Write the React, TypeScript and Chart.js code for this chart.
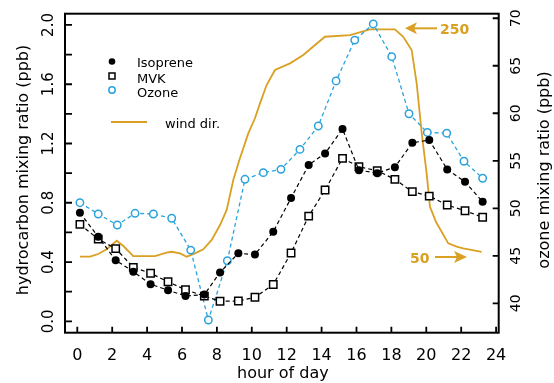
import React, { useEffect, useRef } from 'react';
import { Chart, registerables } from 'chart.js';

Chart.register(...registerables);

// ---- data ----
const sampleHours = [0.15, 1.2, 2.2, 3.21, 4.2, 5.2, 6.2, 7.28, 8.18, 9.23, 10.18, 11.23, 12.25, 13.26, 14.2, 15.2, 16.14, 17.19, 18.2, 19.2, 20.17, 21.2, 22.22, 23.23];
const isoprene = [0.733, 0.57, 0.412, 0.335, 0.25, 0.21, 0.171, 0.18, 0.33, 0.459, 0.45, 0.605, 0.832, 1.055, 1.133, 1.298, 1.02, 1.0, 1.04, 1.205, 1.223, 1.025, 0.942, 0.807];
const mvk = [0.654, 0.555, 0.49, 0.364, 0.324, 0.267, 0.213, 0.17, 0.135, 0.137, 0.162, 0.248, 0.461, 0.71, 0.886, 1.1, 1.043, 1.016, 0.958, 0.875, 0.845, 0.785, 0.746, 0.702];

const ozoneHours = [0.15, 1.2, 2.29, 3.31, 4.36, 5.41, 6.5, 7.51, 8.6, 9.61, 10.66, 11.67, 12.76, 13.81, 14.83, 15.9, 16.96, 18.02, 19.01, 20.06, 21.17, 22.16, 23.23];
const ozone = [50.59, 49.4, 48.24, 49.47, 49.4, 48.95, 45.6, 38.24, 44.48, 53.05, 53.75, 54.1, 56.2, 58.66, 63.4, 67.7, 69.4, 65.96, 59.95, 57.98, 57.9, 54.95, 53.16];

const windHours = [0.15, 0.73, 1.2, 1.68, 2.26, 2.64, 3.21, 3.88, 4.45, 5.12, 5.41, 5.89, 6.27, 6.74, 7.22, 7.7, 8.18, 8.56, 8.94, 9.32, 9.8, 10.18, 10.47, 10.85, 11.33, 12.19, 12.95, 14.19, 15.63, 16.77, 18.2, 18.68, 19.16, 19.45, 19.74, 20.02, 20.21, 20.56, 21.26, 21.74, 22.12, 23.17];
const windDir = [47.6, 47.6, 50, 54.2, 61.8, 57.1, 48.2, 48.2, 48.2, 51.2, 52, 50.6, 47.6, 50.6, 54.2, 62.5, 75.8, 89.2, 115.9, 135.2, 157.4, 170.8, 184.1, 200.4, 213.8, 219.7, 227.1, 243.4, 244.9, 250, 250, 243.4, 231.6, 201.9, 157.4, 121.8, 92.1, 78.5, 59.5, 56.5, 55.1, 51.8];

const xTickValues = [0, 2, 4, 6, 8, 10, 12, 14, 16, 18, 20, 22, 24];
const xTickLabels = ['0', '2', '4', '6', '8', '10', '12', '14', '16', '18', '20', '22', '24'];
const leftTickValues = [0, 0.2, 0.4, 0.6, 0.8, 1.0, 1.2, 1.4, 1.6, 1.8, 2.0];
const leftLabelValues = [0, 0.4, 0.8, 1.2, 1.6, 2.0];
const leftLabels = ['0.0', '0.4', '0.8', '1.2', '1.6', '2.0'];
const rightTickValues = [40, 45, 50, 55, 60, 65, 70];
const rightLabels = ['40', '45', '50', '55', '60', '65', '70'];

const xTitle = 'hour of day';
const leftTitle = 'hydrocarbon mixing ratio (ppb)';
const rightTitle = 'ozone mixing ratio (ppb)';
const legendLabels = ['Isoprene', 'MVK', 'Ozone', 'wind dir.'];
const windHighLabel = '250';
const windLowLabel = '50';
const windHighValue = 250;
const windLowValue = 50;

const ORANGE = '#D9A022';
const BLUE = '#2AA3DD';
const FONT = '"DejaVu Sans", sans-serif';

const framePlugin = {
  id: 'framePlugin',
  afterDraw(chart: any) {
    const ctx: CanvasRenderingContext2D = chart.ctx;
    const { left, top, right, bottom } = chart.chartArea;
    const xs = chart.scales.x;
    const yl = chart.scales.y;
    const yr = chart.scales.yr;
    const yw = chart.scales.yw;
    ctx.save();
    // frame
    ctx.strokeStyle = '#000';
    ctx.lineWidth = 2;
    ctx.strokeRect(left, top, right - left, bottom - top);
    // ticks
    ctx.lineWidth = 1.8;
    ctx.beginPath();
    xTickValues.forEach((v) => {
      const px = xs.getPixelForValue(v);
      ctx.moveTo(px, bottom);
      ctx.lineTo(px, bottom - 6);
    });
    leftTickValues.forEach((v) => {
      const py = yl.getPixelForValue(v);
      ctx.moveTo(left, py);
      ctx.lineTo(left + 7, py);
    });
    rightTickValues.forEach((v) => {
      const py = yr.getPixelForValue(v);
      ctx.moveTo(right, py);
      ctx.lineTo(right - 6, py);
    });
    ctx.stroke();

    // x tick labels
    ctx.fillStyle = '#000';
    ctx.textAlign = 'center';
    ctx.textBaseline = 'alphabetic';
    ctx.font = '16px ' + FONT;
    xTickLabels.forEach((lab, i) => {
      ctx.fillText(lab, xs.getPixelForValue(xTickValues[i]), 360);
    });
    ctx.fillText(xTitle, (left + right) / 2 + 1, 378);

    // left tick labels (rotated)
    ctx.font = '15px ' + FONT;
    leftLabels.forEach((lab, i) => {
      const py = yl.getPixelForValue(leftLabelValues[i]);
      ctx.save();
      ctx.translate(53, py);
      ctx.rotate(-Math.PI / 2);
      ctx.fillText(lab, 0, 0);
      ctx.restore();
    });
    // right tick labels
    ctx.font = '14px ' + FONT;
    rightLabels.forEach((lab, i) => {
      const py = yr.getPixelForValue(rightTickValues[i]);
      ctx.save();
      ctx.translate(520, py);
      ctx.rotate(-Math.PI / 2);
      ctx.fillText(lab, 0, 0);
      ctx.restore();
    });
    // axis titles
    ctx.font = '16px ' + FONT;
    ctx.save();
    ctx.translate(28, 170);
    ctx.rotate(-Math.PI / 2);
    ctx.fillText(leftTitle, 0, 0);
    ctx.restore();
    ctx.save();
    ctx.translate(549, 170);
    ctx.rotate(-Math.PI / 2);
    ctx.fillText(rightTitle, 0, 0);
    ctx.restore();

    // legend
    ctx.font = '13px ' + FONT;
    ctx.textAlign = 'left';
    const lx = 112;
    const tx = 137;
    // isoprene
    ctx.fillStyle = '#000';
    ctx.beginPath();
    ctx.arc(lx, 61.5, 3.3, 0, Math.PI * 2);
    ctx.fill();
    ctx.fillText(legendLabels[0], tx, 66.5);
    // mvk
    ctx.strokeStyle = '#000';
    ctx.lineWidth = 1.5;
    ctx.strokeRect(lx - 3, 73, 6, 6);
    ctx.fillText(legendLabels[1], tx, 82.5);
    // ozone
    ctx.strokeStyle = BLUE;
    ctx.beginPath();
    ctx.arc(lx, 90, 3.2, 0, Math.PI * 2);
    ctx.stroke();
    ctx.fillText(legendLabels[2], tx, 97);
    // wind
    ctx.strokeStyle = ORANGE;
    ctx.lineWidth = 2;
    ctx.beginPath();
    ctx.moveTo(111, 122);
    ctx.lineTo(147, 122);
    ctx.stroke();
    ctx.fillText(legendLabels[3], 165, 128);

    // wind annotations
    ctx.fillStyle = ORANGE;
    ctx.strokeStyle = ORANGE;
    ctx.font = 'bold 14px ' + FONT;
    const yHigh = yw.getPixelForValue(windHighValue) - 1;
    // arrow pointing left
    ctx.lineWidth = 2;
    ctx.beginPath();
    ctx.moveTo(437, yHigh);
    ctx.lineTo(414, yHigh);
    ctx.stroke();
    ctx.beginPath();
    ctx.moveTo(405, yHigh);
    ctx.lineTo(417, yHigh - 6);
    ctx.lineTo(414, yHigh);
    ctx.lineTo(417, yHigh + 6);
    ctx.closePath();
    ctx.fill();
    ctx.textAlign = 'left';
    ctx.fillText(windHighLabel, 440, yHigh + 6);

    const yLow = yw.getPixelForValue(windLowValue) + 3;
    ctx.beginPath();
    ctx.moveTo(435, yLow);
    ctx.lineTo(458, yLow);
    ctx.stroke();
    ctx.beginPath();
    ctx.moveTo(467, yLow);
    ctx.lineTo(454, yLow - 6);
    ctx.lineTo(457, yLow);
    ctx.lineTo(454, yLow + 6);
    ctx.closePath();
    ctx.fill();
    ctx.fillText(windLowLabel, 410, yLow + 6);

    ctx.restore();
  },
};

export default function App() {
  const ref = useRef<HTMLCanvasElement>(null);
  useEffect(() => {
    const canvas = ref.current;
    if (!canvas) return;
    const chart = new Chart(canvas, {
      type: 'scatter',
      data: {
        datasets: [
          {
            label: 'Isoprene',
            data: sampleHours.map((h, i) => ({ x: h, y: isoprene[i] })),
            yAxisID: 'y',
            showLine: true,
            borderColor: '#000',
            borderWidth: 1.2,
            borderDash: [4, 3],
            pointStyle: 'circle',
            pointRadius: 4,
            pointBorderWidth: 0,
            pointBackgroundColor: '#000',
            pointBorderColor: '#000',
          },
          {
            label: 'MVK',
            data: sampleHours.map((h, i) => ({ x: h, y: mvk[i] })),
            yAxisID: 'y',
            showLine: true,
            borderColor: '#000',
            borderWidth: 1.2,
            borderDash: [4, 3],
            pointStyle: 'rect',
            pointRadius: 5.2,
            pointBorderWidth: 1.5,
            pointBackgroundColor: '#fff',
            pointBorderColor: '#000',
          },
          {
            label: 'Ozone',
            data: ozoneHours.map((h, i) => ({ x: h, y: ozone[i] })),
            yAxisID: 'yr',
            showLine: true,
            borderColor: BLUE,
            borderWidth: 1.3,
            borderDash: [4, 3],
            pointStyle: 'circle',
            pointRadius: 3.7,
            pointBorderWidth: 1.5,
            pointBackgroundColor: '#fff',
            pointBorderColor: BLUE,
          },
          {
            label: 'wind dir.',
            data: windHours.map((h, i) => ({ x: h, y: windDir[i] })),
            yAxisID: 'yw',
            showLine: true,
            borderColor: ORANGE,
            borderWidth: 1.8,
            pointRadius: 0,
          },
        ],
      },
      options: {
        responsive: false,
        animation: false,
        devicePixelRatio: 1,
        layout: { padding: { left: 65, top: 13.7, right: 55.3, bottom: 50.3 } },
        plugins: { legend: { display: false }, tooltip: { enabled: false }, title: { display: false } },
        scales: {
          x: { type: 'linear', display: false, min: -0.705, max: 24.15 },
          y: { type: 'linear', display: false, min: -0.077, max: 2.076 },
          yr: { type: 'linear', display: false, min: 36.905, max: 70.48 },
          yw: { type: 'linear', display: false, min: -20.05, max: 263.9 },
        },
      },
      plugins: [framePlugin],
    });
    return () => chart.destroy();
  }, []);
  return (
    <div style={{ position: 'absolute', left: 0, top: 0, width: 554, height: 383, background: '#fff' }}>
      <canvas ref={ref} width={554} height={383} style={{ display: 'block' }} />
    </div>
  );
}
